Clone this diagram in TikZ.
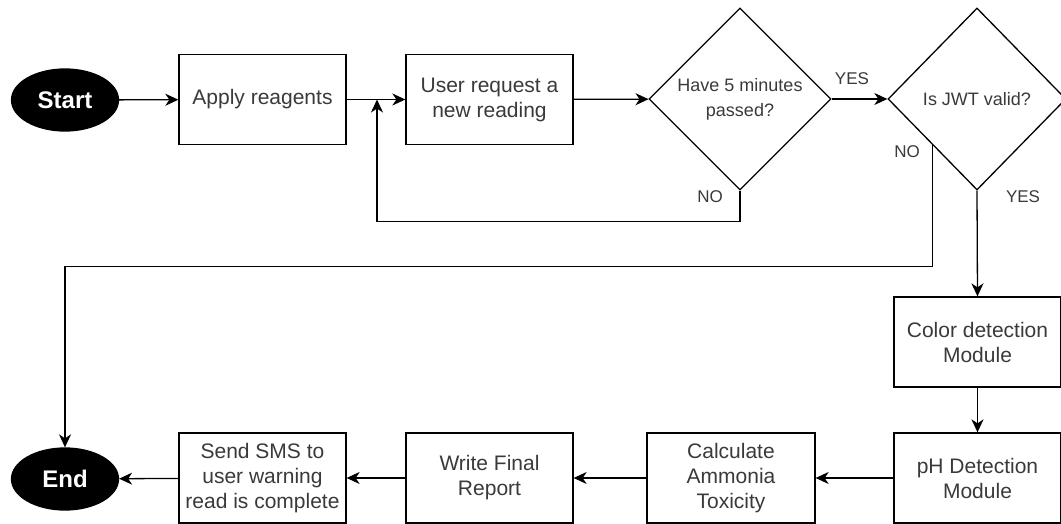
\documentclass[tikz,border=0pt]{standalone}
\usepackage{fontspec}
\setmainfont{Liberation Sans}
\usetikzlibrary{shapes.geometric,arrows.meta,calc}
\definecolor{txt}{HTML}{3A3A3A}
\newcommand\bxfont{\fontsize{21}{25}\selectfont}
\newcommand\dmfont{\fontsize{18}{25}\selectfont}
\newcommand\lbfont{\fontsize{17}{20}\selectfont}
\newcommand\tmfont{\fontsize{24}{28}\selectfont\bfseries}
\tikzset{
  every path/.style={line width=1.3pt},
  stepbox/.style={draw=black, fill=white, minimum width=167pt, minimum height=90pt,
    inner sep=2pt, align=center, font=\bxfont, text=txt},
  decision/.style={draw=black, fill=white, shape=diamond, aspect=1, inner sep=0pt,
    minimum width=182pt, minimum height=182pt, align=center, font=\dmfont, text=txt},
  terminal/.style={shape=ellipse, fill=black, draw=black, minimum width=107pt,
    minimum height=62pt, inner sep=0pt, font=\tmfont, text=white},
  flow/.style={draw=black, -{Stealth[length=13pt,width=12pt,inset=4pt]}},
  lbl/.style={font=\lbfont, text=txt, inner sep=0pt}
}
\begin{document}
\begin{tikzpicture}[x=1pt,y=-1pt]
\useasboundingbox[fill=white] (0,0) rectangle (1061,524);

% top row
\node[terminal] (start) at (65,100) {Start};
\node[stepbox] (apply) at (262.5,99.5) {Apply reagents};
\node[stepbox] (user) at (489.5,99.5) {User request a\\new reading};
\node[decision] (wait) at (740,99) {Have 5 minutes\\passed?};
\node[decision, minimum width=178pt] (jwt) at (977,99) {Is JWT valid?};

% right column and bottom row
\node[stepbox] (color) at (977.5,342) {Color detection\\Module};
\node[stepbox] (ph) at (977.5,478) {pH Detection\\Module};
\node[stepbox, minimum width=168pt] (calc) at (731,478) {Calculate\\Ammonia\\Toxicity};
\node[stepbox] (report) at (489.5,478) {Write Final\\Report};
\node[stepbox] (sms) at (262.5,478) {Send SMS to\\user warning\\read is complete};
\node[terminal] (finish) at (65,479) {End};

% branch points
\coordinate (merge) at (377,99.5);
\coordinate (noexit) at ($(jwt.west)!0.5!(jwt.south)$);

% connectors
\draw[flow] (start) -- (apply);
\draw[flow] (apply) -- (user);
\draw[flow] (user) -- (wait);
\draw[flow] (wait.south) -- ++(0,31) -| (merge);
\draw[flow] (wait) -- (jwt);
\draw[flow] (noexit) -- ++(0,121.5) -| (finish.north);
\draw[flow] (jwt.south) -- (color.north);
\draw[flow] (color) -- (ph);
\draw[flow] (ph) -- (calc);
\draw[flow] (calc) -- (report);
\draw[flow] (report) -- (sms);
\draw[flow] (sms) -- (finish);

% branch labels
\node[lbl] (yes1) at (852,79) {YES};
\node[lbl] (no1) at (710,197) {NO};
\node[lbl] (no2) at (907,152) {NO};
\node[lbl] (yes2) at (1023,197) {YES};
\end{tikzpicture}
\end{document}
